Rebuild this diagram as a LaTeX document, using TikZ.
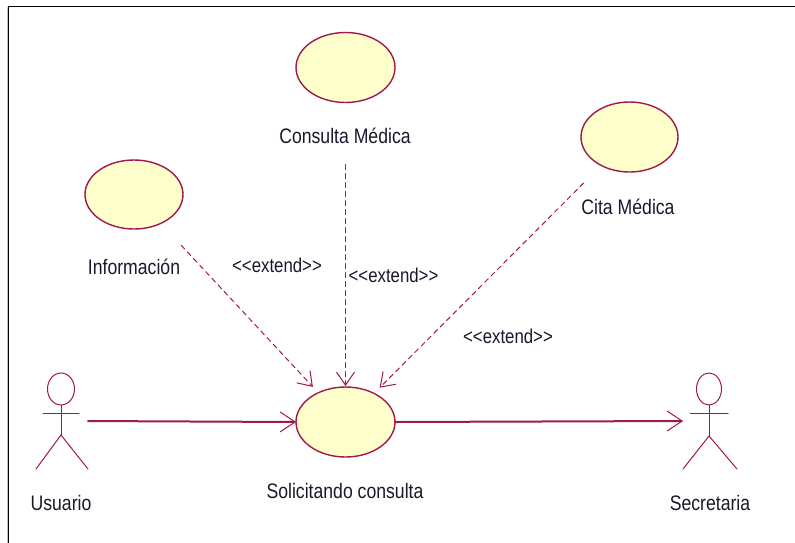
\documentclass[tikz,border=0pt]{standalone}
\usepackage{fontspec}
\setmainfont[FakeStretch=0.84]{Liberation Sans}
\usepackage{tikz}
\usetikzlibrary{arrows.meta,shapes.geometric}

\begin{document}
\begin{tikzpicture}[x=1pt, y=-1pt, line cap=round, line join=round]

% Colors
\definecolor{umlline}{RGB}{160,25,75}
\definecolor{umlfill}{RGB}{255,255,204}
\definecolor{umltext}{RGB}{25,25,45}

\tikzset{
  usecase/.style={ellipse, draw=umlline, fill=umlfill, line width=1.4pt,
    minimum width=99pt, minimum height=70pt, inner sep=0pt, outer sep=0pt},
  ucname/.style={text=umltext, font=\fontsize{21}{24}\selectfont},
  stereo/.style={text=umltext, font=\fontsize{20}{22}\selectfont},
  actorline/.style={draw=umlline, line width=1pt},
  assoc/.style={draw=umlline, line width=2pt,
    -{Straight Barb[length=15pt, width=20pt, line width=1pt]}},
  extendline/.style={draw=umlline, line width=1pt, dash pattern=on 5pt off 4pt,
    -{Straight Barb[length=13pt, width=18pt, line width=1pt]}}
}

\useasboundingbox (0,0) rectangle (795,542);
\fill[white] (0,0) rectangle (795,542);

% Frame
\draw[gray!50, line width=1pt] (7.5,545) -- (7.5,7.5);
\draw[black, line width=1pt] (8.7,545) -- (8.7,6.5) -- (800,6.5);

% Use cases
\node[usecase] (consulta) at (345.5,67.5) {};
\node[usecase, minimum width=97pt] (cita) at (629.5,137) {};
\node[usecase, minimum width=98pt, minimum height=69pt] (info) at (134,194.5) {};
\node[usecase] (sol) at (345.5,422) {};

\node[ucname] (consulta-name) at (345,136) {Consulta Médica};
\node[ucname] (cita-name) at (628,207) {Cita Médica};
\node[ucname] (info-name) at (134,267) {Información};
\node[ucname] (sol-name) at (345,491) {Solicitando consulta};

% Actor: Usuario
\draw[actorline] (61,389) ellipse (13.5 and 16);
\draw[actorline] (61,405) -- (61,435);
\draw[actorline] (43,413) -- (79,413);
\draw[actorline] (36,469) -- (61,435) -- (88,469);
\coordinate (usr-hand) at (88,421);
\node[ucname] (usr-name) at (61,503) {Usuario};

% Actor: Secretaria
\draw[actorline] (709,389) ellipse (12.5 and 16);
\draw[actorline] (709,405) -- (709,436);
\draw[actorline] (690,413) -- (728,413);
\draw[actorline] (683,469) -- (709,436) -- (737,469);
\coordinate (sec-hand) at (683,421);
\node[ucname] (sec-name) at (710,503) {Secretaria};

% Associations
\draw[assoc] (usr-hand) -- (sol.west);
\draw[assoc] (sol.east) -- (sec-hand);

% Extend relations
\draw[extendline, shorten <=30pt, shorten >=8pt] (info) -- (sol);
\draw[extendline, shorten <=62pt, shorten >=1pt] (consulta) -- (sol);
\draw[extendline, shorten <=25pt, shorten >=8pt] (cita) -- (sol);

\node[stereo] (ext-info) at (277,265) {{<}{<}extend{>}{>}};
\node[stereo] (ext-consulta) at (393.5,275.5) {{<}{<}extend{>}{>}};
\node[stereo] (ext-cita) at (508,336) {{<}{<}extend{>}{>}};
\end{tikzpicture}
\end{document}
